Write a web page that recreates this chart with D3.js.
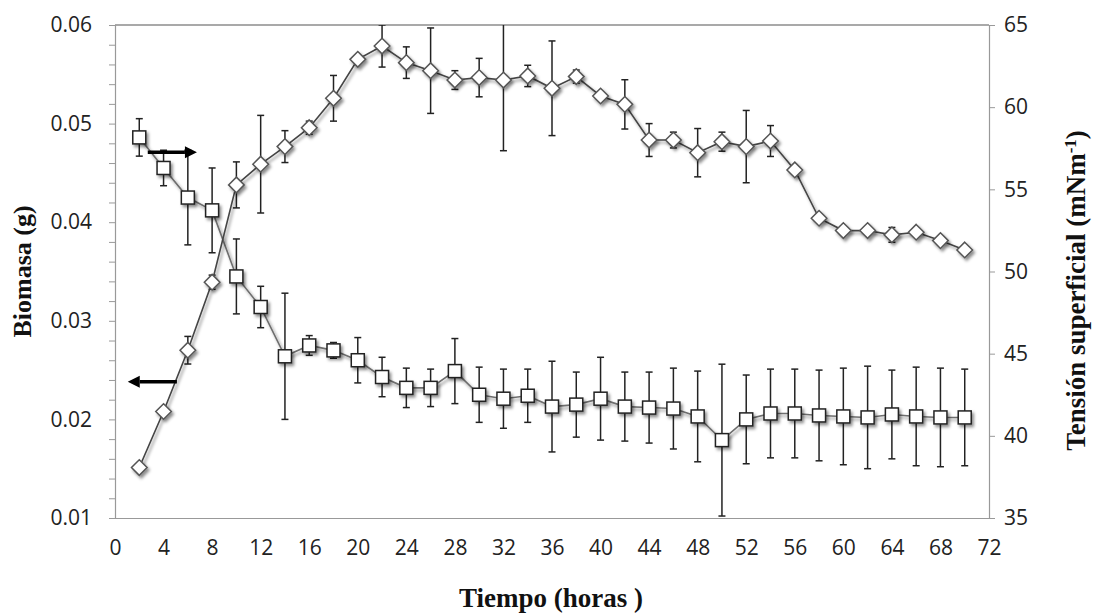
<!DOCTYPE html>
<html>
<head>
<meta charset="utf-8">
<script src="https://cdn.jsdelivr.net/npm/d3@7"></script>
<style>
  body { margin: 0; background: #fff; }
  svg { display: block; }
</style>
</head>
<body>
<svg id="chart" width="1094" height="614"></svg>
<script>
// ---- data ----
const time = [2,4,6,8,10,12,14,16,18,20,22,24,26,28,30,32,34,36,38,40,42,44,46,48,50,52,54,56,58,60,62,64,66,68,70];
const biomass = [0.0486,0.0455,0.0425,0.0412,0.0345,0.0314,0.0264,0.0275,0.0270,0.0260,0.0243,0.0232,0.0232,0.0249,0.0225,0.0221,0.0224,0.0213,0.0215,0.0221,0.0213,0.0212,0.0211,0.0203,0.0179,0.0200,0.0206,0.0206,0.0204,0.0203,0.0202,0.0205,0.0203,0.0202,0.0202];
const biomassErr = [0.0019,0.0018,0.0048,0.0043,0.0038,0.0021,0.0064,0.0010,0.0008,0.0023,0.0020,0.0020,0.0019,0.0033,0.0028,0.0030,0.0027,0.0046,0.0033,0.0042,0.0035,0.0036,0.0041,0.0046,0.0077,0.0045,0.0045,0.0045,0.0046,0.0049,0.0052,0.0045,0.0050,0.0050,0.0049];
const tension = [38.07,41.48,45.21,49.35,55.27,56.53,57.6,58.75,60.54,62.91,63.72,62.71,62.22,61.65,61.8,61.65,61.9,61.15,61.86,60.68,60.17,58.0,58.0,57.23,57.9,57.6,57.94,56.18,53.24,52.49,52.49,52.23,52.39,51.88,51.31];
const tensionErr = [0,0,0.84,0.43,1.4,2.97,0.97,0.4,1.39,0,1.28,0.96,2.6,0.57,1.17,4.3,0.65,2.88,0.4,0,1.5,1.0,0.48,1.47,0.58,2.2,0.94,0,0,0,0,0.45,0,0,0];
const xTicks = [0,4,8,12,16,20,24,28,32,36,40,44,48,52,56,60,64,68,72];
const leftTickLabels = [0.01,0.02,0.03,0.04,0.05,0.06];
const rightTicks = [35,40,45,50,55,60,65];
// annotation arrows: [t start, t end, value]
const arrowRight = {t0: 2.7, t1: 6.75, v: 57.26};   // points to right axis
const arrowLeft = {t0: 5.1, t1: 1.05, v: 0.02382};  // points to left axis

const W = 1094, H = 614;
const m = {left: 115, right: 989, top: 25, bottom: 518};
const svg = d3.select("#chart");

const x = d3.scaleLinear().domain([0,72]).range([m.left, m.right]);
const yL = d3.scaleLinear().domain([0.01,0.06]).range([m.bottom, m.top]);
const yR = d3.scaleLinear().domain([35,65]).range([m.bottom, m.top]);

const defs = svg.append("defs");
const f = defs.append("filter").attr("id","shadow").attr("x","-50%").attr("y","-50%").attr("width","200%").attr("height","200%");
f.append("feDropShadow").attr("dx",2).attr("dy",2.5).attr("stdDeviation",1.8).attr("flood-color","#000").attr("flood-opacity",0.45);
defs.append("clipPath").attr("id","plotclip").append("rect")
  .attr("x", m.left).attr("y", m.top).attr("width", m.right-m.left).attr("height", m.bottom-m.top);

// plot border lines
svg.append("line").attr("x1",m.left).attr("x2",m.right).attr("y1",m.top).attr("y2",m.top)
  .attr("stroke","#555").attr("stroke-width",1.2);

const font = "'Open Sans', 'DejaVu Sans', sans-serif";

// bottom axis
const gx = svg.append("g").attr("transform",`translate(0,${m.bottom})`)
  .call(d3.axisBottom(x).tickValues(xTicks).tickSize(0).tickPadding(22).tickFormat(d3.format("d")));
gx.select(".domain").attr("stroke","#999").attr("stroke-width",1.2);
gx.selectAll("text").attr("font-family",font).attr("font-size",21).attr("fill","#222");

// left axis
const leftMinor = d3.range(0,26).map(i => 0.01 + i*0.002);
const gl = svg.append("g").attr("transform",`translate(${m.left},0)`)
  .call(d3.axisLeft(yL).tickValues(leftMinor).tickSize(6).tickPadding(17)
    .tickFormat(d => leftTickLabels.some(v => Math.abs(v-d) < 1e-9) ? d3.format(".2f")(d) : ""));
gl.select(".domain").attr("stroke","#999").attr("stroke-width",1.2);
gl.selectAll(".tick line").attr("stroke","#999");
gl.selectAll("text").attr("font-family",font).attr("font-size",21).attr("fill","#222");

// right axis
const gr = svg.append("g").attr("transform",`translate(${m.right},0)`)
  .call(d3.axisRight(yR).tickValues(rightTicks).tickSize(6).tickPadding(9).tickFormat(d3.format("d")));
gr.select(".domain").attr("stroke","#999").attr("stroke-width",1.2);
gr.selectAll(".tick line").attr("stroke","#999");
gr.selectAll("text").attr("font-family",font).attr("font-size",21).attr("fill","#222");

// axis titles
const tfont = "'Liberation Serif', 'Times New Roman', serif";
svg.append("text").attr("x",551).attr("y",607)
  .attr("text-anchor","middle").attr("font-family",tfont).attr("font-weight","bold").attr("font-size",27)
  .attr("fill","#111").text("Tiempo (horas )");
svg.append("text").attr("transform",`translate(31,${(m.top+m.bottom)/2}) rotate(-90)`)
  .attr("text-anchor","middle").attr("font-family",tfont).attr("font-weight","bold").attr("font-size",26)
  .attr("fill","#111").text("Biomasa (g)");
const rt = svg.append("text").attr("transform",`translate(1085,${(m.top+m.bottom)/2 + 19}) rotate(-90)`)
  .attr("text-anchor","middle").attr("font-family",tfont).attr("font-weight","bold").attr("font-size",27)
  .attr("fill","#111");
rt.append("tspan").text("Tensión superficial (mNm");
rt.append("tspan").attr("baseline-shift","super").attr("font-size",17).text("-1");
rt.append("tspan").text(")");

const data = time.map((t,i) => ({t, b: biomass[i], be: biomassErr[i], s: tension[i], se: tensionErr[i]}));

const plot = svg.append("g");
const errG = plot.append("g").attr("clip-path","url(#plotclip)");

// error bars
function errBars(sel, yScale, vKey, eKey) {
  const d = data.filter(p => p[eKey] > 0);
  const g = sel.append("g").attr("stroke","#222").attr("stroke-width",1.5).attr("fill","none");
  g.selectAll("line.v").data(d).join("line").attr("class","v")
    .attr("x1",p=>x(p.t)).attr("x2",p=>x(p.t))
    .attr("y1",p=>yScale(p[vKey]+p[eKey])).attr("y2",p=>yScale(p[vKey]-p[eKey]));
  g.selectAll("line.t").data(d).join("line").attr("class","t")
    .attr("x1",p=>x(p.t)-3.5).attr("x2",p=>x(p.t)+3.5)
    .attr("y1",p=>yScale(p[vKey]+p[eKey])).attr("y2",p=>yScale(p[vKey]+p[eKey]));
  g.selectAll("line.b").data(d).join("line").attr("class","b")
    .attr("x1",p=>x(p.t)-3.5).attr("x2",p=>x(p.t)+3.5)
    .attr("y1",p=>yScale(p[vKey]-p[eKey])).attr("y2",p=>yScale(p[vKey]-p[eKey]));
}
errBars(errG, yL, "b", "be");
errBars(errG, yR, "s", "se");

// lines
const lineB = d3.line().x(p=>x(p.t)).y(p=>yL(p.b));
const lineS = d3.line().x(p=>x(p.t)).y(p=>yR(p.s));
plot.append("path").datum(data).attr("d",lineB).attr("fill","none").attr("stroke","#6e6e6e").attr("stroke-width",1.6).attr("filter","url(#shadow)");
plot.append("path").datum(data).attr("d",lineS).attr("fill","none").attr("stroke","#444").attr("stroke-width",1.6).attr("filter","url(#shadow)");

// markers
const sq = 13;
plot.append("g").attr("filter","url(#shadow)").selectAll("rect").data(data).join("rect")
  .attr("x",p=>x(p.t)-sq/2).attr("y",p=>yL(p.b)-sq/2).attr("width",sq).attr("height",sq)
  .attr("fill","#fff").attr("stroke","#222").attr("stroke-width",1.5);
const dd = 7.8;
plot.append("g").attr("filter","url(#shadow)").selectAll("path").data(data).join("path")
  .attr("d",p=>{const cx=x(p.t), cy=yR(p.s); return `M${cx},${cy-dd} L${cx+dd},${cy} L${cx},${cy+dd} L${cx-dd},${cy} Z`;})
  .attr("fill","#fff").attr("stroke","#555").attr("stroke-width",1.5);

// arrows (shaft + filled head)
function arrow(x0, x1, y) {
  const dir = Math.sign(x1 - x0), head = 12, hw = 6;
  const g = svg.append("g");
  g.append("line").attr("x1",x0).attr("x2",x1 - dir*head).attr("y1",y).attr("y2",y)
    .attr("stroke","#000").attr("stroke-width",3.4);
  g.append("path").attr("d",`M${x1},${y} L${x1-dir*head},${y-hw} L${x1-dir*head},${y+hw} Z`).attr("fill","#000");
}
arrow(x(arrowRight.t0), x(arrowRight.t1), yR(arrowRight.v));
arrow(x(arrowLeft.t0), x(arrowLeft.t1), yL(arrowLeft.v));
</script>
</body>
</html>
